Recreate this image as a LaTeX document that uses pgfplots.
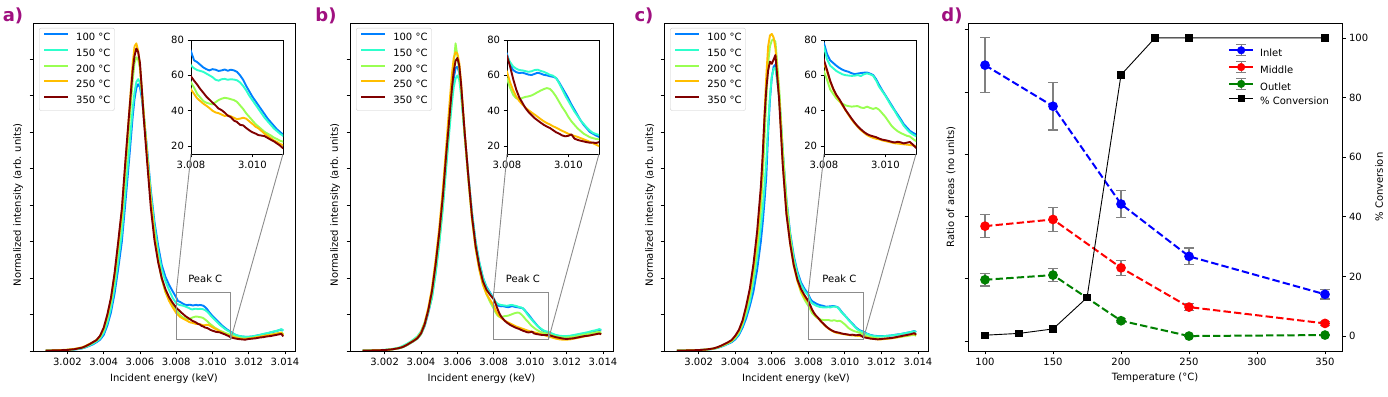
\documentclass[border=0pt]{standalone}
\usepackage{fontspec}
\setmainfont{DejaVu Sans}
\usepackage{pgfplots}
\usepackage{pgfplotstable}
\pgfplotsset{compat=1.18}
\definecolor{spblue}{rgb}{0,0.5,1}
\definecolor{spcyan}{rgb}{0.18,1,0.8}
\definecolor{spgreen}{rgb}{0.6,1,0.32}
\definecolor{sporange}{RGB}{255,190,0}
\definecolor{spred}{rgb}{0.5,0,0}
\definecolor{plab}{RGB}{160,16,128}
\definecolor{boxgray}{rgb}{0.55,0.55,0.55}
\newcommand\fs{\fontsize{10}{12}\selectfont}

% columns: x, 100C (b), 150C (c), 200C (g), 250C (o), 350C (r)
\pgfplotstableread{
x b c g o r
3.0008 0.4 0.4 0.5 0.5 0.5
3.0012 0.6 0.7 0.8 0.8 0.8
3.0016 0.9 1.0 1.0 1.2 1.0
3.0020 1.3 1.4 1.5 1.8 1.5
3.0024 2.0 2.2 2.5 3.0 2.5
3.0028 3.5 3.8 4.3 5.0 4.5
3.0030 5.0 5.5 6.0 7.0 6.5
3.0032 7.0 7.5 8.5 9.5 9.0
3.0034 9.0 10 11.5 12 12
3.0036 12 13 14.5 15 15
3.0038 15.5 17 19.5 20 21
3.0040 22 25 29 31 32
3.0042 35 39 46 48 50
3.0044 53 59 68 71 73
3.0046 79 87 99 104 107
3.0048 113 123 140 146 150
3.0050 150 162 182 190 195
3.0052 205 218 245 258 262
3.0054 262 275 308 325 325
3.0055 292 305 340 360 355
3.0056 322 333 372 395 385
3.0057 346 355 395 418 405
3.0058 361 369 403 422 415
3.0059 366 373 400 412 410
3.0060 362 368 388 390 395
3.0061 347 350 360 358 360
3.0062 325 326 330 326 322
3.0064 275 272 268 265 258
3.0066 220 215 208 205 196
3.0068 177 172 162 158 152
3.0070 145 138 126 125 122
3.0072 118 112 99 100 100
3.0074 102 96 81 82 85
3.0076 91 84 70 69 74
3.0078 82 73 62 60 66
3.0080 73.5 65.5 56 52 59.4
3.0081 68.5 64 53 49.5 57
3.0082 67.5 63 49.5 47 54.8
3.0083 66 62.5 47.5 45.5 52.3
3.0084 64.5 62 45.5 44 50.2
3.0085 63.5 61 44.5 42.8 48
3.0086 62.8 60 44 41.5 46.3
3.0087 63.5 59 43.6 40 44.6
3.0088 63.2 57.5 44.8 39 43
3.0089 62.5 57 46 38.6 41.2
3.0090 62.8 57.8 46.8 37.8 40.3
3.0091 63.3 58 47.3 37 38.9
3.0092 62.6 57.5 47 37.4 37.2
3.0093 63.2 57.8 46.5 36.8 36.3
3.0094 62.8 57.6 46 36 34.4
3.0095 62 57.2 45 35.2 33.6
3.0096 60 56 43 35.5 32
3.0097 57.5 54 41 36 31.7
3.0098 54 51.5 38.5 35.5 30.2
3.0099 51 48.5 36.5 34 28.9
3.0100 48 46 34.5 32.6 27.8
3.0101 45.5 43.5 32.5 31 27.1
3.0102 43 41 31 30 26.2
3.0103 40.5 38.5 29.5 28.5 25.9
3.0104 38 36 28 27 25.6
3.0105 35.5 34 27 25.8 24.6
3.0106 33.5 32 26 24.5 23.6
3.0107 31.5 30 24.8 23.2 22.7
3.0108 29.5 28.5 24 22.3 21.5
3.0109 28 27 23 21.3 20.3
3.0110 26.5 25.8 22.5 20.5 18.8
3.0112 23 23 20 19 17.5
3.0114 21 21 18.5 17.5 16.5
3.0116 20 20 17.5 16.5 16
3.0118 19.5 19.5 17 16.5 15.5
3.0120 19.5 19.5 17.5 17 16.5
3.0122 20 20 18 17.5 17
3.0124 21 21 19 18.5 17.5
3.0126 22 22 19.5 19.5 18.5
3.0128 23 23.5 20.5 20.5 19
3.0130 24 24.5 21.5 21.5 20
3.0132 25.5 25.5 22.5 22 20.5
3.0134 26.5 27 23.5 23 21.5
3.0136 28 28 24.5 24 22.5
3.0138 29.5 30 25.5 25 23.5
3.0139 28 28 23 22 20
}\tabA

\pgfplotstableread{
x b c g o r
3.0008 0.5 0.5 0.5 0.5 0.5
3.0012 0.7 0.8 0.7 0.7 0.7
3.0016 0.9 1.1 0.9 0.9 0.9
3.0020 1.3 1.6 1.3 1.3 1.3
3.0024 2.1 2.7 2.1 2.2 2.2
3.0028 3.8 4.8 3.8 4.0 4.0
3.0030 5.3 7.0 5.3 5.6 5.5
3.0032 7.6 9.5 7.6 8.2 8.0
3.0034 10.5 12.5 10.5 11.3 11
3.0036 13.5 16 13.5 14.5 14
3.0038 17 20 17 18.5 17.5
3.0040 23 27 23 25.5 24
3.0042 34 39 35 38.5 36.5
3.0044 52 55 54 59 56
3.0046 74 72 79 86 81.5
3.0048 108 105 115 124 118
3.0050 150 146 157 168 161
3.0052 200 195 208 222 212
3.0054 262 256 272 285 274
3.0055 292 285 300 318 302
3.0056 322 313 330 350 332
3.0057 350 340 362 380 360
3.0058 374 362 395 402 384
3.0059 388 374 422 410 398
3.0060 390 378 405 408 402
3.0061 382 372 385 396 392
3.0062 360 352 360 370 367
3.0064 298 295 296 300 300
3.0066 242 240 236 238 240
3.0068 190 190 182 182 185
3.0070 150 150 142 141 144.5
3.0072 122 122 113 112 116.5
3.0074 101 101 92 91 96
3.0076 88 87 78 78 84
3.0078 80 79 67 70 77
3.0080 72 71 58 62 71
3.0081 66 67.5 53 56 65
3.0082 63 65 49 51.5 58
3.0083 61.8 63.8 47 48 52
3.0084 61.3 63 46.5 45.5 47.5
3.0085 61.5 62.8 47.2 43.5 44.5
3.0086 61 62.4 47.8 41.8 41.5
3.0087 60.4 62 48.1 40.3 39.3
3.0088 60.2 62.3 48.6 39 37.5
3.0089 60.8 63 49.5 37.8 35.8
3.0090 61.5 63.2 50.5 36.5 34.5
3.0091 61 62.5 51.4 35.2 33.2
3.0092 60.3 62 52.2 34 32
3.0093 60 61.2 52.8 33 31
3.0094 59.5 60.3 52.3 32.2 30.2
3.0095 59.2 59.8 50.5 31.2 29
3.0096 58.5 58.5 48 30.4 27.8
3.0097 56 55.5 45 29.5 27
3.0098 53 52 42 28.6 26
3.0099 50 48.5 39.5 27.8 25.5
3.0100 47 45.5 36.5 26.9 25.8
3.0101 43.5 42.5 34 26.3 26.6
3.0102 40.5 39.5 32 25.7 24.2
3.0103 37.5 37 30 25.2 23.5
3.0104 34.5 34.5 28.5 24.5 23
3.0105 32 32.5 27 23.8 22.6
3.0106 30 30.5 26 23.1 22.2
3.0107 28 28.8 25 22.4 21.9
3.0108 27 27.5 24.5 21.6 22
3.0109 26 26.8 24 20.8 21.7
3.0110 25.2 26.3 23.8 20 22.2
3.0112 23.5 24 21.5 18.5 20.5
3.0114 21.5 22 20 17 19
3.0116 20.5 21 19 16 18
3.0118 20 20.5 18.5 15.5 17
3.0120 20 20.5 18.5 15.5 16.5
3.0122 20.5 21 19 16 17
3.0124 21 22 19.5 17 17.5
3.0126 22 23 20.5 18 18.5
3.0128 23 24 21.5 19 19.5
3.0130 24 25 22.5 20 20.5
3.0132 25 26 23.5 21 21
3.0134 26.5 27.5 24.5 22 22
3.0136 27.5 28.5 25.5 23 23
3.0138 29 30 26.5 24 24
3.0139 28 29 25 23 23
}\tabB

\pgfplotstableread{
x b c g o r
3.0008 0.5 0.5 0.5 0.5 0.5
3.0012 0.7 0.7 0.7 0.7 0.7
3.0016 0.9 0.9 0.9 0.9 0.9
3.0020 1.2 1.2 1.2 1.3 1.3
3.0024 1.8 1.8 1.9 2.0 2.0
3.0028 2.9 3.0 3.2 3.3 3.5
3.0030 4.0 4.3 4.5 4.8 5.0
3.0032 5.6 6.0 6.3 6.6 7.0
3.0034 7.5 8.0 8.5 9.0 9.5
3.0036 9.8 10.5 11 11.5 12
3.0038 12 13 13.5 14.5 15
3.0040 16 17.5 18.5 20 21
3.0042 22 24 26 27.5 29
3.0044 32 35 38 40 42
3.0046 45 50 55 60 62
3.0048 62 68 76 82 86
3.0050 82 95 105 115 120
3.0052 112 128 142 155 165
3.0054 150 170 195 215 225
3.0055 175 195 235 262 268
3.0056 205 225 290 325 320
3.0057 240 262 345 378 360
3.0058 300 310 395 418 385
3.0059 345 350 418 433 397
3.0060 375 377 426 435 394
3.0061 390 387 428 430 400
3.0062 393 389 424 415 406
3.0064 352 350 362 350 345
3.0066 275 272 275 258 255
3.0068 208 205 205 190 188
3.0070 163 160 157 148 148
3.0072 131 128 122 117 118
3.0074 109 106 98 96 98
3.0076 94 91 80 82 85
3.0078 85 82 70 73 76
3.0080 78 76 62 67 68.5
3.0081 72 69 57.5 62 63
3.0082 68.5 65.5 52 56.5 57
3.0083 67 64 49.5 52 52.5
3.0084 65.5 62.5 47 48.5 49
3.0085 64.2 61.5 45.2 45.8 46.5
3.0086 63.2 60.6 44 43 43.5
3.0087 62.5 60.1 43 40.3 40.5
3.0088 62 59.9 42.6 37.6 38
3.0089 61.2 59.7 42.3 35 35.5
3.0090 60.7 59.8 42.5 32.8 33.2
3.0091 61 60.2 42.6 30.8 31.2
3.0092 61.3 59.6 41.8 29 29.5
3.0093 61.5 60.6 41.5 27.6 28
3.0094 61.6 61.1 42.3 26.2 26.8
3.0095 61 60.6 41.6 25.3 26
3.0096 60.2 59.8 41 24.6 25.5
3.0097 57.8 57 41.6 24.1 25
3.0098 54.5 53.5 40.5 23.8 24.2
3.0099 51.5 51 38.5 23.2 23.6
3.0100 48.8 48.5 36.5 22.8 23.3
3.0101 46 45.5 34 22.4 22.9
3.0102 43.2 42.5 31.5 22 22.4
3.0103 40.4 40 29.8 21.6 22
3.0104 37.8 37 28.4 21.4 22.4
3.0105 35.2 34.3 27.4 21.2 22.1
3.0106 32.4 31.5 26.6 21 21.5
3.0107 30.5 29.5 25.8 20.8 21.9
3.0108 28.6 27.7 25.4 20.6 22.3
3.0109 27.5 26.5 24 20.3 20.8
3.0110 26.6 25.6 22.8 20 19
3.0112 24 23.5 20.5 18.5 18
3.0114 22 21.5 19 17.5 17
3.0116 21 20.5 18 16.5 16.5
3.0118 20.5 20 17.5 16 16
3.0120 20.5 20 17 16 16.5
3.0122 20.5 20.5 17 16.5 17
3.0124 21 21 17.5 17 17.5
3.0126 21.5 21.5 18 17.5 18
3.0128 22.5 22 18.5 18.5 19
3.0130 23 23 19 19.5 20
3.0132 24 24 20 20.5 21
3.0134 25 25 20.5 21.5 22
3.0136 26 26 21.5 22.5 23
3.0138 27.5 27 22 23.5 24.5
3.0139 26 26 21 22 22.5
}\tabC

\pgfplotsset{
  /pgf/number format/assume math mode=true,
  base/.style={scale only axis, anchor=south west, font=\fs,
    tick align=outside, major tick length=3.5pt,
    tick style={black,line width=0.8pt}, axis line style={line width=0.8pt},
    xtick pos=bottom, ytick pos=left,
    every tick label/.append style={font=\fs}},
  spec/.style={base, height=328pt, xmin=3.0001, xmax=3.01455, ymin=0, ymax=450,
    xtick={3.002,3.004,3.006,3.008,3.010,3.012,3.014},
    ytick={0,50,...,400}, yticklabels={},
    scaled x ticks=false,
    xticklabel style={/pgf/number format/.cd,fixed,fixed zerofill,precision=3},
    legend cell align=left,
    legend style={at={(axis description cs:0.023,0.985)}, anchor=north west,
      draw=black!20, rounded corners=2pt, fill=white, fill opacity=0.8, draw opacity=1, text opacity=1,
      inner xsep=4pt, inner ysep=5pt, row sep=6.1pt, column sep=7pt, font=\fs,
      nodes={inner sep=0pt, text height=7.6pt, text depth=2pt}}},
  ins/.style={base, width=92pt, height=114pt, xmin=3.008, xmax=3.011, ymin=15.5, ymax=80,
    xtick={3.008,3.010}, ytick={20,40,60,80}, scaled x ticks=false,
    xticklabel style={/pgf/number format/.cd,fixed,fixed zerofill,precision=3},
    axis background/.style={fill=white}},
  sline/.style={line width=1.9pt, line join=round, draw=#1},
}

\newcommand\legimg[1]{\addlegendimage{legend image code/.code={\draw[draw=#1,line width=2pt] (0pt,3.6pt) -- (24pt,3.6pt);}}}
\newcommand\specleg{%
  \legimg{spblue}\addlegendentry{100 °C}
  \legimg{spcyan}\addlegendentry{150 °C}
  \legimg{spgreen}\addlegendentry{200 °C}
  \legimg{sporange}\addlegendentry{250 °C}
  \legimg{spred}\addlegendentry{350 °C}}
\newcommand\spectra[1]{%
  \addplot[sline=spblue, forget plot] table[x=x,y=b]{#1};
  \addplot[sline=spcyan, forget plot] table[x=x,y=c]{#1};
  \addplot[sline=spgreen, forget plot] table[x=x,y=g]{#1};
  \addplot[sline=sporange, forget plot] table[x=x,y=o]{#1};
  \addplot[sline=spred, forget plot] table[x=x,y=r]{#1};}
\newcommand\errleg[1]{\addlegendimage{legend image code/.code={%
  \draw[gray,line width=1.2pt] (12pt,-1.9pt)--(12pt,9.1pt) (7pt,-1.9pt)--(17pt,-1.9pt) (7pt,9.1pt)--(17pt,9.1pt);
  \draw[#1,line width=2pt] (0pt,3.6pt)--(24pt,3.6pt);
  \fill[#1] (12pt,3.6pt) circle (3.8pt);}}}

\begin{document}
\begin{tikzpicture}
\useasboundingbox (0,0) rectangle (1388pt,396pt);

% ---------- panel a ----------
\begin{axis}[spec, at={(33pt,45pt)}, width=262pt]
\specleg
\spectra{\tabA}
\draw[boxgray,line width=0.9pt] (axis cs:3.008,15.5) rectangle (axis cs:3.011,80);
\coordinate (ra1) at (axis cs:3.008,80);
\coordinate (ra2) at (axis cs:3.011,15.5);
\node[font=\fs] at (axis cs:3.0096,99) {Peak C};
\end{axis}
\begin{axis}[ins, at={(191pt,242pt)}, name=ia]
\spectra{\tabA}
\end{axis}
\draw[boxgray,line width=0.9pt] (ra1) -- (ia.south west) (ra2) -- (ia.south east);

% ---------- panel b ----------
\begin{axis}[spec, at={(350pt,45pt)}, width=263pt]
\specleg
\spectra{\tabB}
\draw[boxgray,line width=0.9pt] (axis cs:3.008,15.5) rectangle (axis cs:3.011,80);
\coordinate (rb1) at (axis cs:3.008,80);
\coordinate (rb2) at (axis cs:3.011,15.5);
\node[font=\fs] at (axis cs:3.0096,99) {Peak C};
\end{axis}
\begin{axis}[ins, at={(507pt,242pt)}, name=ib]
\spectra{\tabB}
\end{axis}
\draw[boxgray,line width=0.9pt] (rb1) -- (ib.south west) (rb2) -- (ib.south east);

% ---------- panel c ----------
\begin{axis}[spec, at={(664pt,45pt)}, width=264pt]
\specleg
\spectra{\tabC}
\draw[boxgray,line width=0.9pt] (axis cs:3.008,15.5) rectangle (axis cs:3.011,80);
\coordinate (rc1) at (axis cs:3.008,80);
\coordinate (rc2) at (axis cs:3.011,15.5);
\node[font=\fs] at (axis cs:3.0097,99) {Peak C};
\end{axis}
\begin{axis}[ins, at={(824pt,242pt)}, name=ic]
\spectra{\tabC}
\end{axis}
\draw[boxgray,line width=0.9pt] (rc1) -- (ic.south west) (rc2) -- (ic.south east);

% ---------- panel d ----------
\begin{axis}[base, at={(968pt,45pt)}, width=374pt, height=328pt,
  xmin=87.5, xmax=362.5, ymin=-0.16, ymax=5.107,
  xtick={100,150,200,250,300,350}, ytick={0,1,2,3,4,5}, yticklabels={}]
\addplot[blue, line width=2pt, dash pattern=on 7.4pt off 3.2pt, mark=*, mark size=3.8pt, mark options={solid},
  error bars/.cd, y dir=both, y explicit,
  error bar style={solid, gray, line width=1.2pt},
  error mark options={solid, gray, rotate=90, mark size=5pt, line width=1.2pt}]
  coordinates {(100,4.43) +- (0,0.44) (150,3.77) +- (0,0.38) (200,2.20) +- (0,0.22) (250,1.36) +- (0,0.134) (350,0.75) +- (0,0.075)};
\addplot[red, line width=2pt, dash pattern=on 7.4pt off 3.2pt, mark=*, mark size=3.8pt, mark options={solid},
  error bars/.cd, y dir=both, y explicit,
  error bar style={solid, gray, line width=1.2pt},
  error mark options={solid, gray, rotate=90, mark size=5pt, line width=1.2pt}]
  coordinates {(100,1.845) +- (0,0.187) (150,1.952) +- (0,0.195) (200,1.176) +- (0,0.12) (250,0.545) +- (0,0.053) (350,0.283) +- (0,0.03)};
\addplot[black!50!green, line width=2pt, dash pattern=on 7.4pt off 3.2pt, mark=*, mark size=3.8pt, mark options={solid},
  error bars/.cd, y dir=both, y explicit,
  error bar style={solid, gray, line width=1.2pt},
  error mark options={solid, gray, rotate=90, mark size=5pt, line width=1.2pt}]
  coordinates {(100,0.984) +- (0,0.10) (150,1.059) +- (0,0.105) (200,0.326) +- (0,0.03) (250,0.080) +- (0,0.01) (350,0.096) +- (0,0.01)};
\end{axis}
\begin{axis}[base, at={(968pt,45pt)}, width=374pt, height=328pt,
  xmin=87.5, xmax=362.5, ymin=-5, ymax=105,
  axis x line=none, axis y line*=right, ytick pos=right,
  ytick={0,20,40,60,80,100},
  legend cell align=left,
  legend style={at={(axis description cs:0.695,0.936)}, anchor=north west,
    draw=none, fill=none, inner sep=0pt, row sep=2.3pt, column sep=6pt, font=\fs,
    nodes={inner sep=0pt, text height=7.6pt, text depth=2pt}}]
\errleg{blue}\addlegendentry{Inlet}
\errleg{red}\addlegendentry{Middle}
\errleg{black!50!green}\addlegendentry{Outlet}
\addplot[black, line width=0.9pt, mark=square*, mark size=3.2pt,
  legend image code/.code={\draw[black,line width=0.9pt] (0pt,3.6pt)--(24pt,3.6pt); \fill[black] (8.8pt,0.4pt) rectangle (15.2pt,6.8pt);}]
  coordinates {(100,0.3) (125,0.9) (150,2.4) (175,12.9) (200,87.6) (225,100) (250,100) (350,100)};
\addlegendentry{\% Conversion}
\end{axis}

% ---------- labels ----------
\node[rotate=90,font=\fs] at (18pt,191pt) {Normalized intensity (arb. units)};
\node[rotate=90,font=\fs] at (335pt,191pt) {Normalized intensity (arb. units)};
\node[rotate=90,font=\fs] at (650pt,191pt) {Normalized intensity (arb. units)};
\node[font=\fs] at (164pt,17pt) {Incident energy (keV)};
\node[font=\fs] at (481.5pt,17pt) {Incident energy (keV)};
\node[font=\fs] at (796pt,17pt) {Incident energy (keV)};
\node[rotate=90,font=\fs] at (951pt,209pt) {Ratio of areas (no units)};
\node[rotate=90,font=\fs] at (1379pt,209pt) {\% Conversion};
\node[font=\fs] at (1155pt,18pt) {Temperature (°C)};
\node[font=\bfseries\fontsize{18}{20}\selectfont,text=plab] at (13pt,380pt) {a)};
\node[font=\bfseries\fontsize{18}{20}\selectfont,text=plab] at (326pt,380pt) {b)};
\node[font=\bfseries\fontsize{18}{20}\selectfont,text=plab] at (644pt,380pt) {c)};
\node[font=\bfseries\fontsize{18}{20}\selectfont,text=plab] at (952pt,380pt) {d)};
\end{tikzpicture}
\end{document}
